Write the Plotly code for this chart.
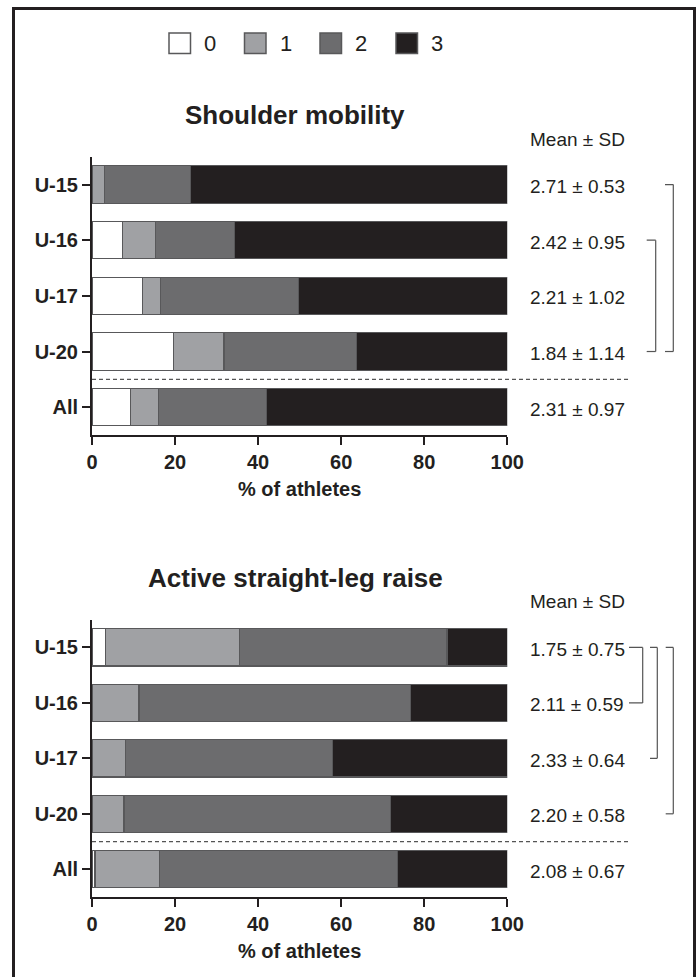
import plotly.graph_objects as go

W, H = 697, 977

groups = ["U-15", "U-16", "U-17", "U-20", "All"]
scores = ["0", "1", "2", "3"]
colors = ["#ffffff", "#a0a1a4", "#6c6c6e", "#231f20"]

# Shoulder mobility: % of athletes per score
sm_0 = [0.0, 7.4, 12.2, 19.7, 9.3]
sm_1 = [3.1, 7.8, 4.2, 12.1, 6.8]
sm_2 = [20.7, 19.1, 33.4, 31.9, 25.9]
sm_3 = [76.2, 65.7, 50.2, 36.3, 58.0]
sm_stats = ["2.71 ± 0.53", "2.42 ± 0.95", "2.21 ± 1.02", "1.84 ± 1.14", "2.31 ± 0.97"]
sm_pairs = [("U-15", "U-20"), ("U-16", "U-20")]

# Active straight-leg raise
aslr_0 = [3.3, 0.0, 0.0, 0.0, 0.7]
aslr_1 = [32.2, 11.3, 8.0, 7.7, 15.6]
aslr_2 = [50.0, 65.3, 50.0, 64.1, 57.3]
aslr_3 = [14.5, 23.4, 42.0, 28.2, 26.4]
aslr_stats = ["1.75 ± 0.75", "2.11 ± 0.59", "2.33 ± 0.64", "2.20 ± 0.58", "2.08 ± 0.67"]
aslr_pairs = [("U-15", "U-16"), ("U-15", "U-17"), ("U-15", "U-20")]

titles = ["Shoulder mobility", "Active straight-leg raise"]
x_title = "% of athletes"
x_ticks = [0, 20, 40, 60, 80, 100]

FONT = "Liberation Sans, Arial, sans-serif"
INK = "#231f20"
EDGE = "#58585a"

def px_x(p):
    return p / W

def px_y(p):
    return 1 - p / H

fig = go.Figure()

panels = [
    dict(vals=[sm_0, sm_1, sm_2, sm_3], stats=sm_stats, pairs=sm_pairs,
         xa="x", ya="y", title_y=115, mean_y=140, xtitle_y=489,
         brackets=[(665, 673.3), (646.7, 655.7)]),
    dict(vals=[aslr_0, aslr_1, aslr_2, aslr_3], stats=aslr_stats, pairs=aslr_pairs,
         xa="x2", ya="y2", title_y=578, mean_y=601, xtitle_y=951,
         brackets=[(629, 642.7), (650, 657.3), (665.7, 673.3)]),
]

shapes = []
annotations = []

for k, p in enumerate(panels):
    for s, col, v in zip(scores, colors, p["vals"]):
        fig.add_trace(go.Bar(
            x=v, y=groups, orientation="h", name=s,
            marker=dict(color=col, line=dict(color=EDGE, width=1.2)),
            width=0.67, xaxis=p["xa"], yaxis=p["ya"], showlegend=False,
            hoverinfo="skip",
        ))
    # dashed separator between U-20 and All
    shapes.append(dict(type="line", xref="paper", yref=p["ya"],
                       x0=px_x(92), x1=px_x(630), y0=3.5, y1=3.5,
                       line=dict(color="#555555", width=1.2, dash="4px,3px")))
    # mean +- SD text
    for g, t in zip(groups, p["stats"]):
        annotations.append(dict(text=t, x=px_x(528), y=g, xref="paper", yref=p["ya"],
                                xanchor="left", yanchor="middle", showarrow=False,
                                yshift=-2, font=dict(family=FONT, size=19, color=INK)))
    annotations.append(dict(text="Mean ± SD", x=px_x(528), y=px_y(p["mean_y"]),
                            xref="paper", yref="paper", xanchor="left", yanchor="middle",
                            showarrow=False, font=dict(family=FONT, size=19, color=INK)))
    # panel title
    annotations.append(dict(text="<b>%s</b>" % titles[k], x=px_x(295), y=px_y(p["title_y"]),
                            xref="paper", yref="paper", xanchor="center", yanchor="middle",
                            showarrow=False, font=dict(family=FONT, size=26, color=INK)))
    # x axis title
    annotations.append(dict(text="<b>%s</b>" % x_title, x=50, y=px_y(p["xtitle_y"]),
                            xref=p["xa"], yref="paper", xanchor="center", yanchor="middle",
                            showarrow=False, font=dict(family=FONT, size=20, color=INK)))
    # significance brackets
    for (a, b), (xl, xr) in zip(p["pairs"], p["brackets"]):
        ia, ib = groups.index(a), groups.index(b)
        for yy in (ia, ib):
            shapes.append(dict(type="line", xref="paper", yref=p["ya"],
                               x0=px_x(xl), x1=px_x(xr), y0=yy, y1=yy,
                               line=dict(color="#555555", width=1.2)))
        shapes.append(dict(type="line", xref="paper", yref=p["ya"],
                           x0=px_x(xr), x1=px_x(xr), y0=ia, y1=ib,
                           line=dict(color="#555555", width=1.2)))

# legend (manual, large square swatches)
leg_left = [169, 244.5, 320, 396]
for s, col, xl in zip(scores, colors, leg_left):
    shapes.append(dict(type="rect", xref="paper", yref="paper",
                       x0=px_x(xl), x1=px_x(xl + 21.5), y0=px_y(53.5), y1=px_y(33),
                       fillcolor=col, line=dict(color=EDGE, width=1.5)))
    annotations.append(dict(text=s, x=px_x(xl + 33), y=px_y(43.5), xref="paper", yref="paper",
                            xanchor="left", yanchor="middle", showarrow=False,
                            font=dict(family=FONT, size=22, color=INK)))

# outer frame
shapes.append(dict(type="rect", xref="paper", yref="paper",
                   x0=px_x(13.5), x1=px_x(694.5), y0=px_y(990), y1=px_y(8.5),
                   line=dict(color=INK, width=3), fillcolor="rgba(0,0,0,0)"))

xdom = [px_x(92), px_x(507.3)]
axis_common_x = dict(range=[0, 100], tickvals=x_ticks,
                     ticktext=["<b>%d</b>" % t for t in x_ticks],
                     showline=True, linewidth=2, automargin=False,
                     linecolor=INK, ticks="outside", ticklen=8, tickwidth=2, tickcolor=INK,
                     showgrid=False, zeroline=False, domain=xdom, fixedrange=True,
                     tickfont=dict(family=FONT, size=20, color=INK))
axis_common_y = dict(type="category", categoryorder="array", categoryarray=groups,
                     range=[4.5, -0.5], showline=True, linewidth=2, linecolor=INK,
                     ticks="outside", ticklen=8, tickwidth=2, tickcolor=INK,
                     showgrid=False, zeroline=False, automargin=False, fixedrange=True,
                     tickfont=dict(family=FONT, size=20, color=INK),
                     tickvals=groups, ticktext=["<b>%s</b>" % g for g in groups])

fig.update_layout(
    width=W, height=H, autosize=False,
    margin=dict(l=0, r=0, t=0, b=0, pad=0),
    paper_bgcolor="white", plot_bgcolor="white",
    barmode="stack", bargap=0.33,
    font=dict(family=FONT, color=INK),
    xaxis=dict(axis_common_x, anchor="y"),
    yaxis=dict(axis_common_y, anchor="x", domain=[px_y(435), px_y(156.7)]),
    xaxis2=dict(axis_common_x, anchor="y2"),
    yaxis2=dict(axis_common_y, anchor="x2", domain=[px_y(897), px_y(619.7)]),
    shapes=shapes, annotations=annotations,
    showlegend=False, hovermode=False,
)

fig.write_html(
    "out.html",
    config={"displayModeBar": False, "responsive": False},
    post_script="document.body.style.margin='0';document.body.style.overflow='hidden';",
)
